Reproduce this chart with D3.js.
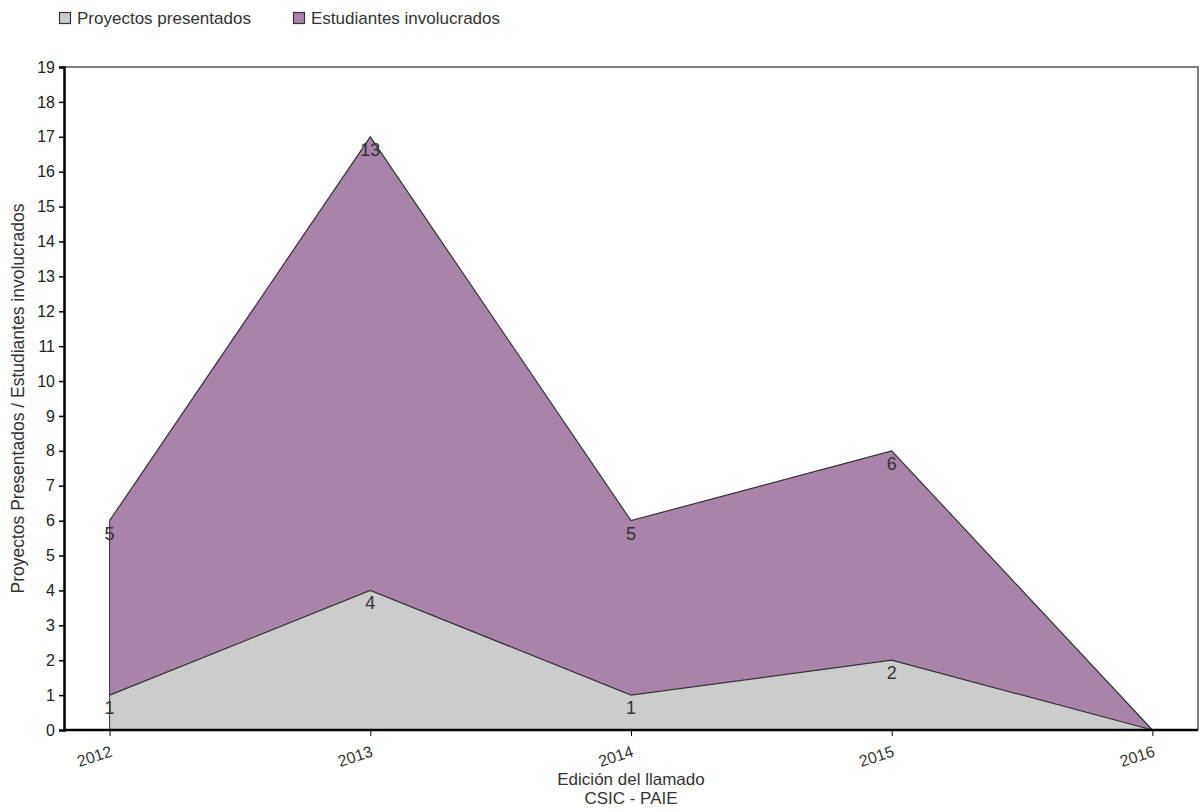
<!DOCTYPE html>
<html><head><meta charset="utf-8">
<script src="https://cdn.jsdelivr.net/npm/d3@7"></script>
<style>
body{margin:0;background:#fff;}
text{font-family:"Liberation Sans",Arial,sans-serif;}
</style></head>
<body><svg id="c" width="1200" height="812"></svg>
<script>
const years = ["2012","2013","2014","2015","2016"];
const proyectos = [1,4,1,2,0];
const estudiantes = [5,13,5,6,0];
const seriesNames = ["Proyectos presentados","Estudiantes involucrados"];
const colors = ["#cccccc","#a884a8"];
const yTicks = d3.range(0,20);

const svg = d3.select("#c");
const L=64, R=1198, T=67, B=730;
const x = d3.scalePoint().domain(years).range([L,R]).padding(0.175);
const y = d3.scaleLinear().domain([0,19]).range([B,T]);

const table = years.map((yr,i)=>({year:yr, p:proyectos[i], e:estudiantes[i]}));
const stack = d3.stack().keys(["p","e"])(table);

const area = d3.area().x(d=>x(d.data.year)).y0(d=>y(d[0])).y1(d=>y(d[1]));
const line = d3.line().x(d=>x(d.data.year)).y(d=>y(d[1]));

stack.forEach((s,i)=>{
  svg.append("path").attr("d",area(s)).attr("fill",colors[i]).attr("stroke","none");
});
stack.forEach((s,i)=>{
  svg.append("path").attr("d",line(s)).attr("fill","none").attr("stroke","#333").attr("stroke-width",1.2);
});
svg.append("line").attr("x1",x(years[0])).attr("x2",x(years[0]))
  .attr("y1",y(0)).attr("y2",y(proyectos[0]+estudiantes[0])).attr("stroke","#333").attr("stroke-width",1);

svg.append("path").attr("d",`M${L},${T}H${R}V${B}`).attr("fill","none").attr("stroke","#555").attr("stroke-width",1.5);

const ya = svg.append("g").attr("transform",`translate(${L},0)`)
  .call(d3.axisLeft(y).tickValues(yTicks).tickSize(5).tickPadding(4).tickFormat(d3.format("d")));
ya.select(".domain").attr("stroke","#000").attr("stroke-width",2.5);
ya.selectAll(".tick line").attr("stroke","#000").attr("stroke-width",1.5);
ya.selectAll(".tick text").attr("font-size",16).attr("fill","#222").attr("font-family","Liberation Sans, Arial");

const xa = svg.append("g").attr("transform",`translate(0,${B})`)
  .call(d3.axisBottom(x).tickSize(6).tickSizeOuter(0));
xa.select(".domain").attr("stroke","#000").attr("stroke-width",2.5).attr("d",`M${L},0H${R}`);
xa.selectAll(".tick line").attr("stroke","#000").attr("stroke-width",1);
xa.selectAll(".tick text").attr("font-size",16).attr("fill","#333").attr("font-family","Liberation Sans, Arial")
  .attr("text-anchor","end").attr("dy",null).attr("y",0)
  .attr("transform","translate(3,26) rotate(-18)");

stack.forEach((s,i)=>{
  svg.append("g").selectAll("text").data(s.filter(d=>d.data[s.key]>0)).join("text")
    .attr("x",d=>x(d.data.year)).attr("y",d=>y(d[1])+19)
    .attr("text-anchor","middle").attr("font-size",18).attr("fill","#333")
    .text(d=>d.data[s.key]);
});

svg.append("text").attr("x",(L+R)/2).attr("y",785).attr("text-anchor","middle").attr("font-size",17).attr("fill","#333").text("Edición del llamado");
svg.append("text").attr("x",(L+R)/2).attr("y",804).attr("text-anchor","middle").attr("font-size",17).attr("fill","#333").text("CSIC - PAIE");
svg.append("text").attr("transform",`translate(24,${(T+B)/2}) rotate(-90)`).attr("text-anchor","middle").attr("font-size",17.5).attr("fill","#333")
  .text("Proyectos Presentados / Estudiantes involucrados");

const lx=[59,293];
seriesNames.forEach((n,i)=>{
  svg.append("rect").attr("x",lx[i]+0.5).attr("y",12.5).attr("width",11).attr("height",11).attr("fill",colors[i]).attr("stroke","#333").attr("stroke-width",1.2);
  svg.append("text").attr("x",lx[i]+18).attr("y",24).attr("font-size",17).attr("fill","#333").text(n);
});
</script></body></html>
